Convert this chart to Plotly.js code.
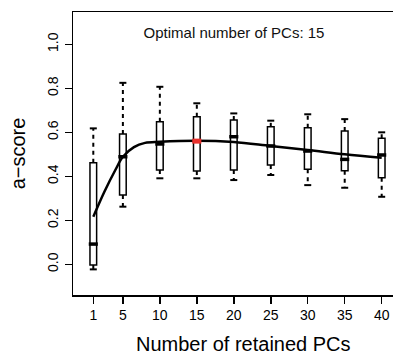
<!DOCTYPE html>
<html>
<head>
<meta charset="utf-8">
<script src="https://cdn.plot.ly/plotly-3.0.1.min.js"></script>
<style>html,body{margin:0;padding:0;background:#fff;overflow:hidden}#chart{width:393px;height:356px}</style>
</head>
<body>
<div id="chart"></div>
<script>
// Number of retained PCs (categories)
var pcs = [1, 5, 10, 15, 20, 25, 30, 35, 40];
// box statistics of a-score
var lowerCap = [-0.023, 0.262, 0.391, 0.391, 0.383, 0.406, 0.360, 0.348, 0.307];
var q1 = [-0.003, 0.315, 0.429, 0.424, 0.429, 0.451, 0.432, 0.425, 0.394];
var med = [0.092, 0.489, 0.547, 0.560, 0.580, 0.538, 0.515, 0.477, 0.497];
var q3 = [0.462, 0.592, 0.648, 0.671, 0.656, 0.625, 0.621, 0.606, 0.573];
var upperCap = [0.618, 0.825, 0.807, 0.732, 0.686, 0.653, 0.682, 0.660, 0.600];
// smoothed a-score curve
var curveX = [1, 2.5, 4, 5, 6.5, 8, 10, 15, 20, 25, 30, 35, 40];
var curveY = [0.216, 0.33, 0.43, 0.489, 0.533, 0.552, 0.557, 0.562, 0.556, 0.538, 0.52, 0.5, 0.484];
var optimal = 15;
var titleText = 'Optimal number of PCs: ' + optimal;
var xTitle = 'Number of retained PCs';
var yTitle = 'a\u2212score';

var FONT = 'Liberation Sans, Arial, Helvetica, sans-serif';

// whisker segments
var upX = [], upY = [], loX = [], loY = [];
pcs.forEach(function (p, i) {
  upX.push(p, p, null); upY.push(q3[i], upperCap[i], null);
  loX.push(p, p, null); loY.push(q1[i], lowerCap[i], null);
});
var medColors = pcs.map(function (p) { return p === optimal ? '#e8302c' : 'black'; });
var medWidths = pcs.map(function (p) { return p === optimal ? 5 : 3.5; });

var traces = [
  {type: 'scatter', mode: 'lines', x: upX, y: upY, hoverinfo: 'skip',
   line: {color: 'black', width: 2, dash: '4px,4px'}},
  {type: 'scatter', mode: 'lines', x: loX, y: loY, hoverinfo: 'skip',
   line: {color: 'black', width: 2, dash: '4px,4px'}},
  {type: 'scatter', mode: 'markers', x: pcs.concat(pcs), y: upperCap.concat(lowerCap),
   marker: {symbol: 'line-ew-open', size: 5, color: 'black', line: {color: 'black', width: 2}}},
  {type: 'box', x: pcs, q1: q1, median: med, q3: q3, lowerfence: q1, upperfence: q3,
   width: 0.9, whiskerwidth: 0, fillcolor: 'white', boxpoints: false,
   line: {color: 'black', width: 1.5}},
  {type: 'scatter', mode: 'lines', x: curveX, y: curveY,
   line: {color: 'black', width: 2.5, shape: 'spline', smoothing: 1}},
  {type: 'scatter', mode: 'markers', x: pcs, y: med,
   marker: {symbol: 'line-ew-open', size: 6.5, color: medColors, line: {color: medColors, width: medWidths}}}
];

var layout = {
  width: 393, height: 356,
  margin: {l: 73, r: 0, t: 12, b: 61},
  paper_bgcolor: 'white', plot_bgcolor: 'white',
  showlegend: false,
  font: {family: FONT, color: 'black', size: 14},
  title: {text: titleText, font: {family: FONT, size: 15, color: '#111'},
          xref: 'container', yref: 'container', x: 234 / 393, xanchor: 'center',
          y: 1 - 33 / 356, yanchor: 'middle'},
  xaxis: {range: [-1.745, 41.53], tickvals: pcs, ticktext: pcs.map(String),
          ticks: 'outside', ticklen: 7, tickwidth: 1.5, tickcolor: 'black',
          showline: true, linewidth: 1.5, linecolor: 'black', mirror: true,
          showgrid: false, zeroline: false, tickfont: {size: 14}},
  yaxis: {range: [-0.1395, 1.147], tick0: 0, dtick: 0.2, tickformat: '.1f',
          tickangle: -90, ticks: 'outside', ticklen: 7, tickwidth: 1.5, tickcolor: 'black',
          ticklabelstandoff: 1,
          showline: true, linewidth: 1.5, linecolor: 'black', mirror: false,
          showgrid: false, zeroline: false, tickfont: {size: 14},
          title: {text: yTitle, font: {size: 20}, standoff: 14}},
  annotations: [
    {text: xTitle, xref: 'paper', yref: 'paper', x: (243 - 73) / 320, y: (295 - 344) / 283,
     xanchor: 'center', yanchor: 'middle', showarrow: false, font: {size: 20}}
  ]
};

Plotly.newPlot('chart', traces, layout, {staticPlot: true, displayModeBar: false});
</script>
</body>
</html>
